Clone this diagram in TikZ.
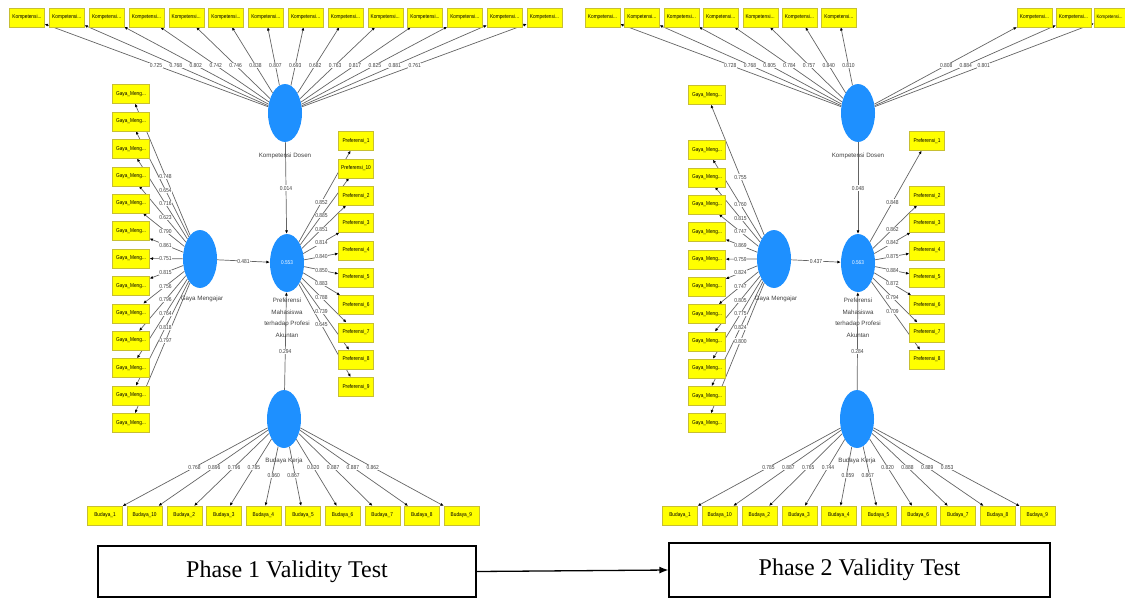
\documentclass[tikz,border=0pt]{standalone}
\usepackage{fontspec}
\setmainfont{Liberation Serif}
\newfontfamily\nf[FakeStretch=0.85]{Liberation Sans}
\newfontfamily\nfw{Liberation Sans}
\usetikzlibrary{arrows.meta,calc,shapes.geometric,backgrounds}
\definecolor{lvblue}{RGB}{30,144,255}
\definecolor{indy}{RGB}{255,255,0}
\definecolor{lineg}{RGB}{100,100,100}
\tikzset{
  ind/.style={draw=yellow!75!black, line width=0.2pt, fill=indy, minimum width=35pt, minimum height=19pt, inner sep=0pt, font=\nf\fontsize{5.6}{6}\selectfont},
  indg/.style={ind, minimum width=37pt},
  lv/.style={ellipse, fill=lvblue, minimum width=34pt, minimum height=58pt, inner sep=0pt, text=white, font=\nf\fontsize{5.5}{6}\selectfont},
  ld/.style={draw=lineg, line width=0.7pt, -{Latex[length=3.4pt,width=3pt,color=black]}},
  lbl/.style={fill=white, inner sep=0.5pt, text=black!75, font=\nf\fontsize{5.8}{6}\selectfont},
  lvname/.style={text=black!75, font=\nfw\fontsize{6.2}{11.5}\selectfont, align=center, inner sep=0pt},
  phase/.style={draw=black, line width=1.2pt, inner sep=0pt, font=\fontsize{24}{26}\selectfont},
}
\begin{document}
\begin{tikzpicture}[x=1pt,y=-1pt]
\clip (0,0) rectangle (1125,598);

% ================= LEFT PANEL =================
\node[lv] (KD1) at (285,113) {};
\node[lvname] at (285,156) {Kompetensi Dosen};
\node[lv] (GM1) at (200,259) {};
\node[lvname] at (202,299) {Gaya Mengajar};
\node[lv] (PM1) at (287,263) {0.553};
\node[lvname] at (287,318) {Preferensi\\Mahasiswa\\terhadap Profesi\\Akuntan};
\node[lv] (BK1) at (284,419) {};
\node[lvname] at (284,461) {Budaya Kerja};

\foreach \i in {1,...,14}
  \node[ind] (K1-\i) at ({27+39.8*(\i-1)},17.5) {Kompetensi...};
\foreach \i in {1,...,13}
  \node[indg] (G1-\i) at (131,{94+27.4*(\i-1)}) {Gaya\_Meng...};
\foreach \n [count=\i] in {1,10,2,3,4,5,6,7,8,9}
  \node[ind] (P1-\i) at (356,{141+27.3*(\i-1)}) {Preferensi\_\n};
\foreach \n [count=\i] in {1,10,2,3,4,5,6,7,8,9}
  \node[ind] (B1-\i) at ({105+39.6*(\i-1)},515.5) {Budaya\_\n};

% ================= RIGHT PANEL =================
\node[lv] (KD2) at (858,113) {};
\node[lvname] at (858,156) {Kompetensi Dosen};
\node[lv] (GM2) at (774,259) {};
\node[lvname] at (776,299) {Gaya Mengajar};
\node[lv] (PM2) at (858,263) {0.563};
\node[lvname] at (858,318) {Preferensi\\Mahasiswa\\terhadap Profesi\\Akuntan};
\node[lv] (BK2) at (857,419) {};
\node[lvname] at (857,461) {Budaya Kerja};

\foreach \xx [count=\i] in {602.5,641.9,681.3,720.7,760.1,799.5,838.9,1034.5,1073.5}
  \node[ind] (K2-\i) at (\xx,17.5) {Kompetensi...};
\node[ind, minimum width=31pt, font=\nf\fontsize{5}{6}\selectfont] (K2-10) at (1109.5,17.5) {Kompetensi...};
\foreach \yy [count=\i] in {95,150,177.3,204.6,231.9,259.2,286.5,313.8,341.1,368.4,395.7,423}
  \node[indg] (G2-\i) at (707,\yy) {Gaya\_Meng...};
\foreach \k/\yy [count=\i] in {1/141,2/195.6,3/222.9,4/250.2,5/277.5,6/304.8,7/332.1,8/359.4}
  \node[ind] (P2-\i) at (927,\yy) {Preferensi\_\k};
\foreach \n [count=\i] in {1,10,2,3,4,5,6,7,8,9}
  \node[ind] (B2-\i) at ({680+39.7*(\i-1)},515.5) {Budaya\_\n};

% ================= CONNECTORS (behind boxes) =================
\begin{scope}[on background layer]
  \foreach \i in {1,...,14} \draw[ld] (KD1) -- (K1-\i);
  \foreach \i in {1,...,13} \draw[ld] (GM1) -- (G1-\i);
  \foreach \i in {1,...,10} \draw[ld] (PM1) -- (P1-\i);
  \foreach \i in {1,...,10} \draw[ld] (BK1) -- (B1-\i);
  \draw[ld] (KD1) -- (PM1);
  \draw[ld] (GM1) -- (PM1);
  \draw[ld] (BK1) -- (PM1);
  \foreach \i in {1,...,10} \draw[ld] (KD2) -- (K2-\i);
  \foreach \i in {1,...,12} \draw[ld] (GM2) -- (G2-\i);
  \foreach \i in {1,...,8} \draw[ld] (PM2) -- (P2-\i);
  \foreach \i in {1,...,10} \draw[ld] (BK2) -- (B2-\i);
  \draw[ld] (KD2) -- (PM2);
  \draw[ld] (GM2) -- (PM2);
  \draw[ld] (BK2) -- (PM2);
\end{scope}

% ================= LOADING LABELS =================
\foreach \v [count=\i] in {0.725,0.768,0.802,0.742,0.746,0.838,0.807,0.693,0.682,0.763,0.817,0.825,0.881,0.761}
  \node[lbl] at ($(KD1)!0.5!(K1-\i)$) {\v};
\foreach \v [count=\i] in {0.748,0.654,0.716,0.623,0.790,0.861,0.751,0.815,0.756,0.796,0.764,0.818,0.797}
  \node[lbl] at ($(GM1)!0.5!(G1-\i)$) {\v};
\foreach \v [count=\i] in {0.852,0.885,0.851,0.814,0.840,0.850,0.883,0.788,0.739,0.645}
  \node[lbl] at ($(PM1)!0.5!(P1-\i)$) {\v};
\foreach \v/\dy [count=\i] in {0.768/0,0.896/0,0.796/0,0.785/0,0.860/8,0.867/8,0.820/0,0.887/0,0.887/0,0.862/0}
  \node[lbl] at ($($(BK1)!0.5!(B1-\i)$)+(0,\dy)$) {\v};
\node[lbl] at ($(KD1)!0.5!(PM1)$) {0.014};
\node[lbl] at ($(GM1)!0.5!(PM1)$) {0.481};
\node[lbl] at ($(BK1)!0.43!(PM1)$) {0.294};

\foreach \v [count=\i] in {0.728,0.768,0.805,0.784,0.757,0.840,0.810,0.808,0.884,0.801}
  \node[lbl] at ($(KD2)!0.5!(K2-\i)$) {\v};
\foreach \v [count=\i] in {0.755,0.760,0.815,0.747,0.869,0.759,0.824,0.747,0.805,0.775,0.824,0.800}
  \node[lbl] at ($(GM2)!0.5!(G2-\i)$) {\v};
\foreach \v [count=\i] in {0.848,0.862,0.842,0.875,0.884,0.872,0.794,0.709}
  \node[lbl] at ($(PM2)!0.5!(P2-\i)$) {\v};
\foreach \v/\dy [count=\i] in {0.785/0,0.887/0,0.765/0,0.744/0,0.859/8,0.867/8,0.820/0,0.888/0,0.889/0,0.853/0}
  \node[lbl] at ($($(BK2)!0.5!(B2-\i)$)+(0,\dy)$) {\v};
\node[lbl] at ($(KD2)!0.5!(PM2)$) {0.048};
\node[lbl] at ($(GM2)!0.5!(PM2)$) {0.437};
\node[lbl] at ($(BK2)!0.43!(PM2)$) {0.284};

% ================= PHASE BOXES =================
\node[phase, minimum width=378pt, minimum height=51pt] (PH1) at (287,571.5) {Phase 1 Validity Test};
\node[phase, minimum width=381pt, minimum height=54pt] (PH2) at (859.5,570) {Phase 2 Validity Test};
\draw[line width=1.3pt, -{Latex[length=9pt,width=7pt]}] (PH1.east) -- (PH2.west);
\end{tikzpicture}
\end{document}
